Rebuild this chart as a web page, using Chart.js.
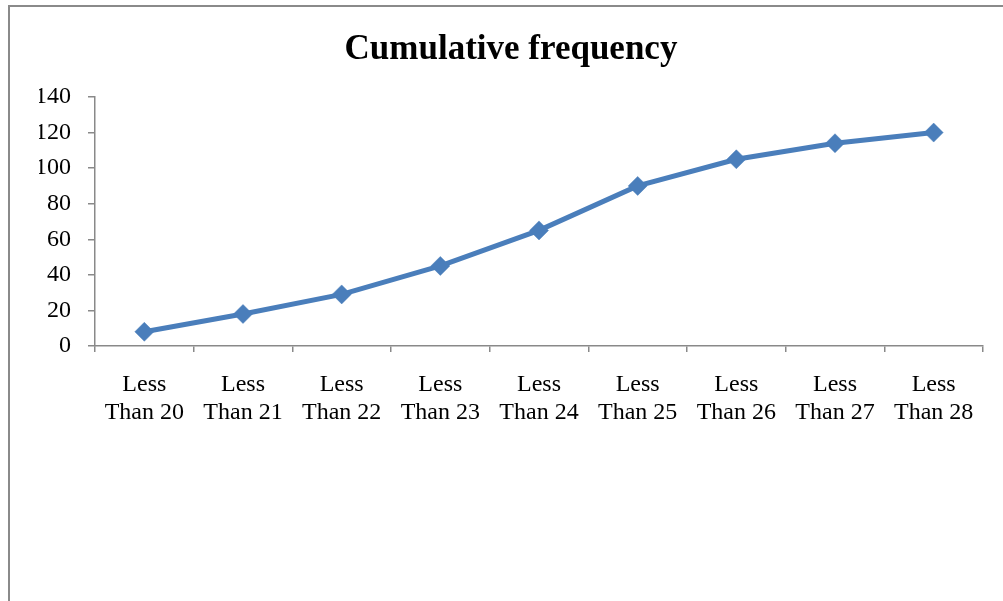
<!DOCTYPE html>
<html>
<head>
<meta charset="utf-8">
<script src="https://cdn.jsdelivr.net/npm/chart.js@4"></script>
<style>
  html, body { margin: 0; padding: 0; background: #fff; overflow: hidden; }
  #frame { position: absolute; left: 8px; top: 5px; width: 1200px; height: 800px; border: 2px solid #8a8a8a; box-sizing: border-box; }
  #c { position: absolute; left: 0; top: 0; }
</style>
</head>
<body>
<div id="frame"></div>
<canvas id="c" width="1003" height="601"></canvas>
<script>
const categories = [
  ["Less", "Than 20"], ["Less", "Than 21"], ["Less", "Than 22"],
  ["Less", "Than 23"], ["Less", "Than 24"], ["Less", "Than 25"],
  ["Less", "Than 26"], ["Less", "Than 27"], ["Less", "Than 28"]
];
const cumulativeFrequency = [8, 18, 29, 45, 65, 90, 105, 114, 120];
const yTicks = [0, 20, 40, 60, 80, 100, 120, 140];
const titleText = "Cumulative frequency";

const serif = "'Liberation Serif', 'Times New Roman', serif";
const lineColor = "#4a7ebb";
const axisColor = "#898989";

new Chart(document.getElementById("c"), {
  type: "line",
  data: {
    labels: categories,
    datasets: [{
      data: cumulativeFrequency,
      borderColor: lineColor,
      backgroundColor: lineColor,
      borderWidth: 5,
      pointStyle: "rectRot",
      pointRadius: 9.5,
      pointHoverRadius: 9.5,
      pointBackgroundColor: lineColor,
      pointBorderColor: lineColor,
      pointBorderWidth: 0.5,
      tension: 0,
      fill: false
    }]
  },
  options: {
    responsive: false,
    animation: false,
    layout: { padding: { left: 39, right: 20, top: 0, bottom: 0 } },
    plugins: {
      legend: { display: false },
      tooltip: { enabled: false },
      title: {
        display: true,
        text: titleText,
        color: "#000",
        font: { family: serif, size: 35, weight: "bold", lineHeight: 1.2 },
        padding: { top: 29, bottom: 26 }
      }
    },
    scales: {
      x: {
        type: "category",
        offset: true,
        grid: {
          offset: true,
          drawOnChartArea: false,
          drawTicks: true,
          tickLength: 6,
          color: axisColor,
          lineWidth: 1.5
        },
        border: { display: true, color: axisColor, width: 1.5 },
        ticks: {
          color: "#000",
          font: { family: serif, size: 24, lineHeight: 1.17 },
          padding: 19,
          maxRotation: 0,
          minRotation: 0,
          autoSkip: false
        },
        afterFit: (scale) => { scale.height = 601 - 346; }
      },
      y: {
        min: 0,
        max: 140,
        afterBuildTicks: (scale) => { scale.ticks = yTicks.map(v => ({ value: v })); },
        grid: {
          drawOnChartArea: false,
          drawTicks: true,
          tickLength: 7,
          color: axisColor,
          lineWidth: 1.5
        },
        border: { display: true, color: axisColor, width: 1.5 },
        ticks: {
          color: "#000",
          font: { family: serif, size: 24 },
          padding: 17
        },
        afterFit: (scale) => { scale.width = 95 - 39; }
      }
    }
  }
});
</script>
</body>
</html>
